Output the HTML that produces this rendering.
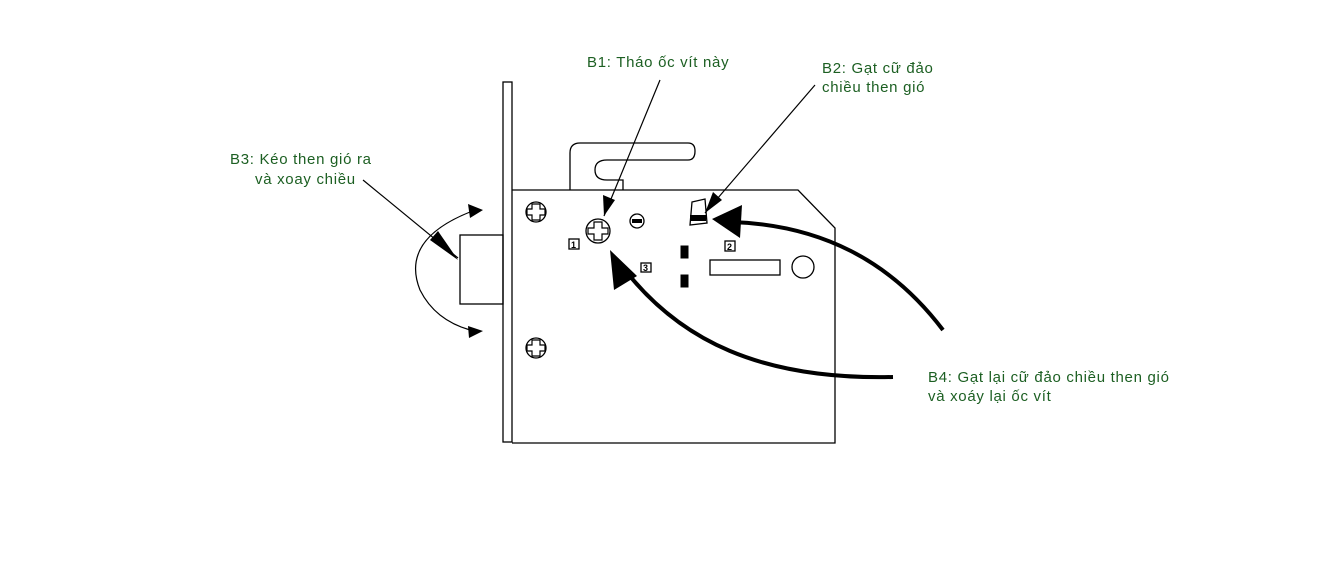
<!DOCTYPE html>
<html><head><meta charset="utf-8"><style>
html,body{margin:0;padding:0;background:#fff;width:1321px;height:575px;overflow:hidden}
svg{display:block}
text{font-family:"Liberation Sans",sans-serif;font-size:15px;fill:#1c5f22;letter-spacing:0.7px}
</style></head><body>
<svg width="1321" height="575" viewBox="0 0 1321 575">
<g fill="none" stroke="#000" stroke-width="1.3">
<rect x="503" y="82" width="9" height="360"/>
<path d="M512,190 H798 L835,228 V443 H512"/>
<rect x="460" y="235" width="43" height="69"/>
<path d="M570,190 V153 Q570,143 580,143 H688 Q695,143 695,151 Q695,160 688,160 H607 Q595,160 595,170 Q595,180 607,180 H623 V190"/>
<circle cx="536" cy="212" r="10"/>
<circle cx="598" cy="231" r="12"/>
<circle cx="536" cy="348" r="10"/>
<circle cx="637" cy="221" r="7"/>
<rect x="710" y="260" width="70" height="15"/>
<circle cx="803" cy="267" r="11"/>
<path d="M692,202 L705,199 L707,223 L690,225z"/>
<rect x="569" y="239" width="10" height="10"/>
<rect x="725" y="241" width="10" height="10"/>
<rect x="641" y="263" width="10" height="9"/>
</g>
<g fill="none" stroke="#000" stroke-width="1.2">
<path d="M532,204 h8 v5 h5 v6 h-5 v5 h-8 v-5 h-5 v-6 h5z"/>
<path d="M594,222 h8 v6 h6 v6 h-6 v6 h-8 v-6 h-6 v-6 h6z"/>
<path d="M532,340 h8 v5 h5 v6 h-5 v5 h-8 v-5 h-5 v-6 h5z"/>
</g>
<rect x="632" y="219" width="10" height="4" fill="#000"/>
<rect x="690" y="215" width="16" height="6" fill="#000"/>
<rect x="681" y="246" width="7" height="12" fill="#000" stroke="#000"/>
<rect x="681" y="275" width="7" height="12" fill="#000" stroke="#000"/>
<text x="571" y="248" style="fill:#000;font-size:9px;font-weight:bold;letter-spacing:0">1</text>
<text x="727" y="250" style="fill:#000;font-size:9px;font-weight:bold;letter-spacing:0">2</text>
<text x="643" y="271" style="fill:#000;font-size:9px;font-weight:bold;letter-spacing:0">3</text>
<g stroke="#000" stroke-width="1.2" fill="none">
<line x1="660" y1="80" x2="604" y2="216"/>
<line x1="815" y1="85" x2="705" y2="213"/>
<line x1="363" y1="180" x2="458" y2="258"/>
<path d="M470,212 Q400,240 420,290 Q435,320 470,330"/>
</g>
<path d="M604,216 L603,195 L615,200z" fill="#000"/>
<path d="M705,213 L713,192 L722,200z" fill="#000"/>
<path d="M458,260 L430,240 L438,231z" fill="#000"/>
<path d="M483,210 L468,204 L470,218z" fill="#000"/>
<path d="M483,331 L468,326 L469,338z" fill="#000"/>
<g stroke="#000" stroke-width="4" fill="none">
<path d="M893,377 C760,380 680,340 625,270"/>
<path d="M943,330 C890,260 820,225 732,222"/>
</g>
<path d="M610,250 L614,290 L637,276z" fill="#000"/>
<path d="M712,219 L742,205 L740,238z" fill="#000"/>
<text x="587" y="67">B1: Tháo ốc vít này</text>
<text x="822" y="73">B2: Gạt cữ đảo</text>
<text x="822" y="92">chiều then gió</text>
<text x="230" y="164">B3: Kéo then gió ra</text>
<text x="255" y="184">và xoay chiều</text>
<text x="928" y="382">B4: Gạt lại cữ đảo chiều then gió</text>
<text x="928" y="401">và xoáy lại ốc vít</text>
</svg>
</body></html>
